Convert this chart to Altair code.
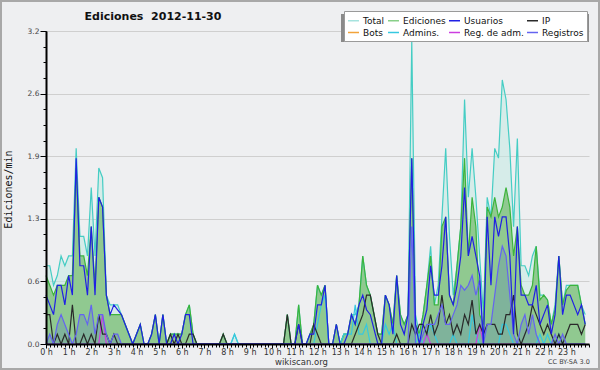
import altair as alt
import pandas as pd

# 10-minute bins over the day (144 bins)
bins = list(range(144))

total = [
    0.8, 0.8, 0.6, 0.7, 0.9, 0.8,   # 0 h
    0.9, 0.9, 2.0, 1.1, 1.1, 0.9,   # 1 h
    1.6, 0.9, 1.8, 1.7, 0.5, 0.4,   # 2 h
    0.4, 0.4, 0.3, 0.2, 0.1, 0.0,   # 3 h
    0.1, 0.2, 0.0, 0.0, 0.1, 0.3,   # 4 h
    0.0, 0.3, 0.0, 0.1, 0.1, 0.1,   # 5 h
    0.1, 0.3, 0.4, 0.1, 0.0, 0.0,   # 6 h
    0.0, 0.0, 0.0, 0.0, 0.0, 0.1,   # 7 h
    0.0, 0.0, 0.1, 0.0, 0.0, 0.0,   # 8 h
    0.0, 0.0, 0.0, 0.0, 0.0, 0.0,   # 9 h
    0.0, 0.0, 0.0, 0.0, 0.3, 0.0,   # 10 h
    0.0, 0.4, 0.0, 0.0, 0.1, 0.2,   # 11 h
    0.6, 0.5, 0.6, 0.0, 0.0, 0.2,   # 12 h
    0.0, 0.1, 0.1, 0.3, 0.3, 0.4,   # 13 h
    0.9, 0.6, 0.5, 0.3, 0.1, 0.1,   # 14 h
    0.5, 0.4, 0.2, 0.7, 0.3, 0.2,   # 15 h
    0.3, 3.1, 0.3, 0.1, 0.3, 0.6,   # 16 h
    1.0, 0.4, 0.6, 1.3, 2.0, 1.1,   # 17 h
    0.5, 0.8, 1.2, 2.5, 1.5, 2.0,   # 18 h
    1.5, 0.9, 0.3, 1.5, 1.3, 2.0,   # 19 h
    1.9, 2.7, 2.5, 2.0, 1.2, 2.1,   # 20 h
    0.8, 0.8, 0.7, 0.9, 1.0, 0.5,   # 21 h
    0.5, 0.45, 0.2, 0.4, 0.9, 0.4,  # 22 h
    0.6, 0.6, 0.6, 0.6, 0.4, 0.3,   # 23 h
]

ediciones = [
    0.7, 0.6, 0.5, 0.6, 0.6, 0.6,
    0.7, 0.7, 1.8, 0.9, 0.9, 0.7,
    1.2, 0.6, 1.5, 1.4, 0.5, 0.3,
    0.3, 0.3, 0.3, 0.2, 0.1, 0.0,
    0.1, 0.2, 0.0, 0.0, 0.1, 0.3,
    0.0, 0.3, 0.0, 0.1, 0.1, 0.1,
    0.1, 0.3, 0.4, 0.1, 0.0, 0.0,
    0.0, 0.0, 0.0, 0.0, 0.0, 0.1,
    0.0, 0.0, 0.0, 0.0, 0.0, 0.0,
    0.0, 0.0, 0.0, 0.0, 0.0, 0.0,
    0.0, 0.0, 0.0, 0.0, 0.3, 0.0,
    0.0, 0.4, 0.0, 0.0, 0.1, 0.2,
    0.6, 0.5, 0.6, 0.0, 0.0, 0.2,
    0.0, 0.1, 0.1, 0.3, 0.2, 0.4,
    0.9, 0.6, 0.5, 0.3, 0.1, 0.1,
    0.5, 0.4, 0.2, 0.7, 0.3, 0.2,
    0.3, 1.9, 0.2, 0.1, 0.3, 0.6,
    0.9, 0.4, 0.4, 1.2, 1.3, 0.5,
    0.4, 0.8, 1.2, 1.9, 0.9, 1.5,
    1.2, 0.3, 0.2, 1.4, 1.3, 1.5,
    1.3, 1.4, 1.6, 1.4, 0.9, 1.2,
    0.6, 0.5, 0.5, 0.6, 1.0, 0.45,
    0.5, 0.45, 0.2, 0.35, 0.9, 0.4,
    0.55, 0.6, 0.6, 0.6, 0.4, 0.2,
]

usuarios = [
    0.5, 0.4, 0.3, 0.6, 0.6, 0.4,
    0.7, 0.5, 1.9, 0.8, 0.8, 0.5,
    1.2, 0.5, 1.5, 1.4, 0.5, 0.3,
    0.4, 0.35, 0.3, 0.2, 0.1, 0.0,
    0.1, 0.2, 0.0, 0.0, 0.1, 0.3,
    0.0, 0.3, 0.0, 0.0, 0.1, 0.0,
    0.1, 0.3, 0.3, 0.0, 0.0, 0.0,
    0.0, 0.0, 0.0, 0.0, 0.0, 0.0,
    0.0, 0.0, 0.0, 0.0, 0.0, 0.0,
    0.0, 0.0, 0.0, 0.0, 0.0, 0.0,
    0.0, 0.0, 0.0, 0.0, 0.0, 0.0,
    0.0, 0.2, 0.0, 0.0, 0.1, 0.1,
    0.4, 0.4, 0.6, 0.0, 0.0, 0.2,
    0.0, 0.0, 0.1, 0.3, 0.2, 0.4,
    0.5, 0.35, 0.3, 0.15, 0.0, 0.0,
    0.5, 0.4, 0.1, 0.7, 0.2, 0.1,
    0.3, 1.9, 0.2, 0.0, 0.2, 0.35,
    0.8, 0.5, 0.5, 0.8, 1.3, 0.5,
    0.4, 0.6, 0.9, 1.6, 0.9, 1.1,
    0.9, 0.7, 0.0, 1.3, 0.6, 1.3,
    1.1, 1.3, 1.3, 0.9, 0.1, 1.2,
    0.5, 0.5, 0.4, 0.4, 0.6, 0.2,
    0.3, 0.4, 0.1, 0.3, 0.9, 0.3,
    0.5, 0.5, 0.4, 0.3, 0.4, 0.2,
]

registros = [
    0.0, 0.1, 0.0, 0.2, 0.3, 0.2,
    0.1, 0.0, 0.1, 0.3, 0.3, 0.2,
    0.4, 0.1, 0.3, 0.3, 0.1, 0.0,
    0.1, 0.1, 0.0, 0.0, 0.0, 0.0,
    0.0, 0.0, 0.0, 0.0, 0.0, 0.0,
    0.0, 0.0, 0.0, 0.0, 0.0, 0.0,
    0.0, 0.0, 0.0, 0.0, 0.0, 0.0,
    0.0, 0.0, 0.0, 0.0, 0.0, 0.0,
    0.0, 0.0, 0.0, 0.0, 0.0, 0.0,
    0.0, 0.0, 0.0, 0.0, 0.0, 0.0,
    0.0, 0.0, 0.0, 0.0, 0.0, 0.0,
    0.0, 0.0, 0.0, 0.0, 0.0, 0.0,
    0.0, 0.0, 0.0, 0.0, 0.0, 0.0,
    0.0, 0.0, 0.0, 0.0, 0.0, 0.0,
    0.0, 0.0, 0.0, 0.0, 0.0, 0.0,
    0.0, 0.0, 0.0, 0.0, 0.0, 0.0,
    0.0, 1.2, 0.0, 0.0, 0.1, 0.2,
    0.2, 0.2, 0.3, 0.4, 0.2, 0.2,
    0.3, 0.4, 0.6, 0.55, 0.6, 0.7,
    0.5, 0.65, 0.0, 0.2, 0.2, 0.5,
    0.8, 1.0, 0.9, 0.5, 0.1, 0.0,
    0.2, 0.3, 0.1, 0.3, 0.1, 0.0,
    0.0, 0.0, 0.0, 0.1, 0.0, 0.1,
    0.0, 0.0, 0.0, 0.0, 0.0, 0.0,
]

ip = [
    0.3, 0.3, 0.0, 0.1, 0.0, 0.1,
    0.0, 0.4, 0.0, 0.0, 0.1, 0.0,
    0.1, 0.0, 0.3, 0.1, 0.1, 0.0,
    0.1, 0.0, 0.0, 0.0, 0.0, 0.0,
    0.0, 0.0, 0.0, 0.0, 0.0, 0.0,
    0.0, 0.0, 0.0, 0.1, 0.0, 0.1,
    0.0, 0.0, 0.1, 0.1, 0.0, 0.0,
    0.0, 0.0, 0.0, 0.0, 0.0, 0.1,
    0.0, 0.0, 0.0, 0.0, 0.0, 0.0,
    0.0, 0.0, 0.0, 0.0, 0.0, 0.0,
    0.0, 0.0, 0.0, 0.0, 0.3, 0.0,
    0.0, 0.2, 0.0, 0.0, 0.0, 0.2,
    0.1, 0.0, 0.0, 0.0, 0.0, 0.0,
    0.0, 0.0, 0.0, 0.0, 0.1, 0.2,
    0.3, 0.5, 0.5, 0.3, 0.1, 0.0,
    0.0, 0.0, 0.0, 0.1, 0.0, 0.0,
    0.0, 0.2, 0.1, 0.2, 0.2, 0.1,
    0.3, 0.1, 0.2, 0.5, 0.2, 0.3,
    0.1, 0.2, 0.1, 0.3, 0.2, 0.45,
    0.1, 0.2, 0.1, 0.2, 0.2, 0.2,
    0.1, 0.1, 0.3, 0.3, 0.5, 0.1,
    0.0, 0.1, 0.2, 0.4, 0.3, 0.2,
    0.1, 0.2, 0.1, 0.0, 0.1, 0.0,
    0.1, 0.2, 0.2, 0.2, 0.1, 0.2,
]

admins = [0.0] * 144
for k, v in [(50, 0.1), (72, 0.2), (73, 0.4), (74, 0.5), (79, 0.1), (80, 0.1),
             (81, 0.1), (82, 0.4), (83, 0.1), (84, 0.1), (85, 0.2), (90, 0.2),
             (91, 0.1), (92, 0.2), (99, 0.1), (101, 0.1), (102, 0.2), (103, 0.1),
             (108, 0.1), (113, 0.3), (114, 0.1), (121, 0.2), (122, 0.2), (123, 0.1),
             (131, 0.1), (133, 0.1), (136, 0.1)]:
    admins[k] = v

reg_adm = [0.0] * 144
for k, v in [(15, 0.3), (101, 0.1), (115, 0.2)]:
    reg_adm[k] = v

series_names = ["Total", "Ediciones", "Usuarios", "IP", "Bots", "Admins.", "Reg. de adm.", "Registros"]
legend_colors = ["#a6e3de", "#88cf88", "#2020e4", "#2a2a2a", "#f2a33a", "#36c8e0", "#cc3ee0", "#6464f0"]

hour_ticks = list(range(24))
minor_x_ticks = [k / 6 for k in range(145)]
major_y_ticks = [0, 0.64, 1.28, 1.92, 2.56, 3.2]
minor_y_ticks = [round(0.16 * k, 2) for k in range(21)]

df = pd.DataFrame({
    "t": [k / 6 for k in bins],
    "total": total,
    "ediciones": ediciones,
    "usuarios": usuarios,
    "registros": registros,
    "ip": ip,
    "admins": admins,
    "reg_adm": reg_adm,
})
name_map = {"admins": "Admins.", "reg_adm": "Reg. de adm.", "ip": "IP",
            "registros": "Registros", "usuarios": "Usuarios"}
long_df = df.melt(id_vars=["t"], value_vars=list(name_map.keys()), var_name="key", value_name="v")
long_df["serie"] = long_df["key"].map(name_map)

FONT = "DejaVu Sans"
xs = alt.Scale(domain=[0, 24], nice=False, zero=False)
ys = alt.Scale(domain=[0, 3.2], nice=False)

x_axis = alt.Axis(values=hour_ticks, labelExpr="datum.value + ' h'", tickSize=4, tickColor="black",
                  labelFont=FONT, labelFontSize=8, labelColor="#333", labelPadding=0,
                  labelFlush=False, labelOverlap=False, domain=False, grid=False,
                  title="wikiscan.org", titleFont=FONT, titleFontSize=8.5, titleFontWeight="normal",
                  titleColor="#333", titleX=255, titleY=17, titleAnchor="middle", titleAlign="center",
                  titleBaseline="middle")
y_axis = alt.Axis(values=major_y_ticks, format=".1f", tickSize=6, tickColor="black",
                  labelFont=FONT, labelFontSize=7.5, labelColor="#444", labelPadding=1,
                  domain=False, grid=True, gridColor="#cfcfcf", gridWidth=1,
                  title="Ediciones/min", titleFont="DejaVu Sans Mono", titleFontSize=10,
                  titleFontWeight="normal", titleColor="#111", titleX=-38, titleY=158,
                  titleAngle=270, titleAlign="center", titleBaseline="middle")


def X():
    return alt.X("t:Q", scale=xs, axis=x_axis)


def Y(field):
    return alt.Y(f"{field}:Q", scale=ys, axis=y_axis)


base = alt.Chart(df)
total_area = base.mark_area(color="#c2eae2", opacity=0.55).encode(x=X(), y=Y("total"))
edit_area = base.mark_area(color="#90c990", opacity=1).encode(x=X(), y=Y("ediciones"))
reg_area = base.mark_area(color="#3a5fc8", opacity=0.2).encode(x=X(), y=Y("registros"))
total_line = base.mark_line(color="#45cdc4", strokeWidth=1.2).encode(x=X(), y=Y("total"))
edit_line = base.mark_line(color="#3cb43c", strokeWidth=1.2).encode(x=X(), y=Y("ediciones"))

lines = alt.Chart(long_df).mark_line(strokeWidth=1.2).encode(
    x=X(),
    y=Y("v"),
    color=alt.Color("serie:N",
                    scale=alt.Scale(domain=series_names, range=legend_colors),
                    sort=series_names,
                    legend=alt.Legend(orient="none", legendX=298, legendY=-20, columns=4,
                                      direction="horizontal",
                                      symbolType="stroke", symbolSize=121, symbolStrokeWidth=1.5,
                                      labelFont=FONT, labelFontSize=9, labelColor="#111",
                                      labelOffset=3, columnPadding=0, rowPadding=-3, padding=3,
                                      fillColor="white", strokeColor="#9a9a9a", title=None)),
    order=alt.Order("key:N"),
)

one = pd.DataFrame({"a": [0]})
shadow = alt.Chart(one).mark_rect(color="#8a8a8a").encode(
    x=alt.value(295), x2=alt.value(543), y=alt.value(-17), y2=alt.value(11))
title_txt = alt.Chart(one).mark_text(font=FONT, fontSize=11, fontWeight="bold", color="#111",
                                     align="center", baseline="middle").encode(
    x=alt.value(107), y=alt.value(-14), text=alt.value("Ediciones\u00a0\u00a02012-11-30"))
cc_txt = alt.Chart(one).mark_text(font=FONT, fontSize=6.5, color="#444",
                                  align="center", baseline="middle").encode(
    x=alt.value(523), y=alt.value(331), text=alt.value("CC BY-SA 3.0"))
frame = alt.Chart(one).mark_rect(fill="transparent", stroke="#a8a8a8", strokeWidth=2).encode(
    x=alt.value(-45), x2=alt.value(553), y=alt.value(-30), y2=alt.value(338))

main = alt.layer(total_area, edit_area, reg_area, total_line, edit_line, lines,
                 shadow, title_txt, cc_txt, frame)

minor = alt.Chart(df).mark_point(opacity=0).encode(
    x=alt.X("t:Q", scale=xs, axis=alt.Axis(values=minor_x_ticks, labels=False, tickSize=3,
                                           tickColor="black", domain=True, domainColor="black",
                                           domainWidth=2, grid=False, title="", orient="bottom",
                                           zindex=1)),
    y=alt.Y("total:Q", scale=ys, axis=alt.Axis(values=minor_y_ticks, labels=False, tickSize=3,
                                               tickColor="black", domain=True, domainColor="black",
                                               domainWidth=2, grid=False, title="", orient="left",
                                               zindex=1)),
)

chart = alt.layer(main, minor).resolve_scale(x="independent", y="independent").properties(
    width=543, height=313,
    padding={"left": 46, "top": 31, "right": 11, "bottom": 26},
    autosize=alt.AutoSizeParams(type="none"),
    background="#eeeff1",
).configure_view(strokeWidth=0)

chart.save("out.html", embed_options={"renderer": "svg", "actions": False})
